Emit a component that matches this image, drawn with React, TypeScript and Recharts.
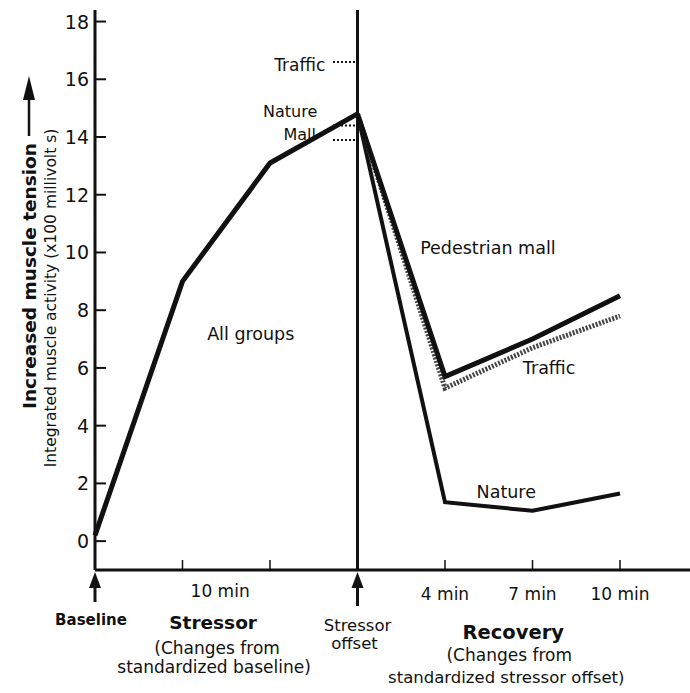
import { LineChart, Line, XAxis, YAxis, ReferenceLine, ReferenceDot, Customized } from "recharts";

const FONT = "'DejaVu Sans', sans-serif";
const INK = "#111";

// stressor phase (x: 0 = baseline, 3 = stressor offset)
const stressorX = [0, 1, 2, 3];
const allGroups = [0.2, 9.0, 13.1, 14.8];

// recovery phase (x: 4 = 4 min, 5 = 7 min, 6 = 10 min)
const recoveryX = [3, 4, 5, 6];
const mall = [14.8, 5.7, 7.0, 8.5];
const traffic = [14.8, 5.3, 6.7, 7.8];
const nature = [14.8, 1.35, 1.05, 1.65];

// standardized offset markers at the stressor offset line
const markerX = [2.72, 3];
const trafficOffset = 16.6;
const natureOffset = 14.4;
const mallOffset = 13.9;

const yTicks = [0, 2, 4, 6, 8, 10, 12, 14, 16, 18];
const xTicks = [0, 1, 1.43, 2, 3, 4, 4.78, 5, 6];
const tickMarks = [1, 2, 4, 5, 6];
const minuteLabels: Record<string, string> = { "1.43": "10 min", "4": "4 min", "5": "7 min", "6": "10 min" };

const annotations = [
  { x: 2.34, y: 16.5, text: "Traffic", size: 17 },
  { x: 2.23, y: 14.88, text: "Nature", size: 16 },
  { x: 2.34, y: 14.08, text: "Mall", size: 16 },
  { x: 4.49, y: 10.15, text: "Pedestrian mall", size: 17.5 },
  { x: 1.78, y: 7.2, text: "All groups", size: 17.5 },
  { x: 5.19, y: 6.0, text: "Traffic", size: 17.5 },
  { x: 4.7, y: 1.7, text: "Nature", size: 17.5 },
];

const toPoints = (xs: number[], ys: number[]) => xs.map((x, i) => ({ x, v: ys[i] }));

function YTick(props: any) {
  const { x, y, payload } = props;
  return (
    <g>
      <line x1={x} x2={x + 11} y1={y} y2={y} stroke={INK} strokeWidth={2} />
      <text x={x - 6} y={y} textAnchor="end" dominantBaseline="central" fontSize={19} fontFamily={FONT} fill={INK}>
        {payload.value}
      </text>
    </g>
  );
}

function Arrow({ x, y, len }: { x: number; y: number; len: number }) {
  return (
    <g>
      <path d={`M${x},${y + 2} L${x - 6},${y + 18} L${x + 6},${y + 18} Z`} fill={INK} />
      <line x1={x} x2={x} y1={y + 14} y2={y + len} stroke={INK} strokeWidth={3} />
    </g>
  );
}

function T({ x, y, size = 17, bold = false, children }: any) {
  return (
    <text x={x} y={y} textAnchor="middle" dominantBaseline="central" fontSize={size} fontWeight={bold ? "bold" : "normal"} fontFamily={FONT} fill={INK}>
      {children}
    </text>
  );
}

function XTick(props: any) {
  const { x, y, payload } = props;
  const v = payload.value;
  const parts: any[] = [];
  if (tickMarks.includes(v)) {
    parts.push(<line key="t" x1={x} x2={x} y1={y} y2={y - 10} stroke={INK} strokeWidth={1.5} />);
  }
  const m = minuteLabels[String(v)];
  if (m) parts.push(<T key="m" x={x} y={y + (v > 3 ? 24 : 21)}>{m}</T>);
  if (v === 0) {
    parts.push(<Arrow key="a" x={x} y={y} len={32} />);
    parts.push(<T key="b" x={x - 4} y={y + 50} size={15} bold>Baseline</T>);
  }
  if (v === 3) {
    parts.push(<Arrow key="a" x={x} y={y} len={36} />);
    parts.push(<T key="s1" x={x} y={y + 55} size={16.5}>Stressor</T>);
    parts.push(<T key="s2" x={x - 3} y={y + 73} size={16.5}>offset</T>);
  }
  if (v === 1.43) {
    parts.push(<T key="g1" x={x - 7} y={y + 52} size={18.5} bold>Stressor</T>);
    parts.push(<T key="g2" x={x - 3} y={y + 78}>(Changes from</T>);
    parts.push(<T key="g3" x={x - 6} y={y + 97}>standardized baseline)</T>);
  }
  if (v === 4.78) {
    parts.push(<T key="r1" x={x} y={y + 62} size={19.5} bold>Recovery</T>);
    parts.push(<T key="r2" x={x - 4} y={y + 85}>(Changes from</T>);
    parts.push(<T key="r3" x={x - 7} y={y + 107} size={16.5}>standardized stressor offset)</T>);
  }
  return <g>{parts}</g>;
}

function YLabels() {
  return (
    <g fontFamily={FONT} fill={INK}>
      <text transform="translate(29,276) rotate(-90)" textAnchor="middle" dominantBaseline="central" fontSize={18.5} fontWeight="bold">
        Increased muscle tension
      </text>
      <line x1={29} x2={29} y1={136} y2={95} stroke={INK} strokeWidth={2.5} />
      <path d="M29,76 L23,100 L35,100 Z" fill={INK} />
      <text transform="translate(51,298) rotate(-90)" textAnchor="middle" dominantBaseline="central" fontSize={15.5}>
        Integrated muscle activity (x100 millivolt s)
      </text>
    </g>
  );
}

export default function App() {
  return (
    <div style={{ position: "absolute", left: 0, top: 0, width: 690, height: 693, background: "#fff" }}>
      <LineChart width={690} height={693} margin={{ top: 10, right: 0, bottom: 0, left: 0 }}>
        <XAxis
          xAxisId="main"
          dataKey="x"
          type="number"
          domain={[0, 6.8]}
          ticks={xTicks}
          interval={0}
          height={123}
          tickSize={0}
          tickMargin={0}
          tickLine={false}
          axisLine={{ stroke: INK, strokeWidth: 3 }}
          tick={<XTick />}
        />
        <XAxis xAxisId="top" orientation="top" type="number" domain={[0, 6.8]} height={0} tick={false} tickLine={false} axisLine={{ stroke: INK, strokeWidth: 2 }} />
        <YAxis
          type="number"
          domain={[-1, 18.4]}
          ticks={yTicks}
          interval={0}
          width={95}
          tickSize={0}
          tickMargin={0}
          tickLine={false}
          axisLine={{ stroke: INK, strokeWidth: 3 }}
          tick={<YTick />}
        />
        <ReferenceLine xAxisId="main" x={3} stroke={INK} strokeWidth={3} />
        <Line xAxisId="main" data={toPoints(markerX, [trafficOffset, trafficOffset])} dataKey="v" stroke={INK} strokeWidth={2} strokeDasharray="2 2" dot={false} isAnimationActive={false} />
        <Line xAxisId="main" data={toPoints(markerX, [natureOffset, natureOffset])} dataKey="v" stroke={INK} strokeWidth={2} strokeDasharray="2 2" dot={false} isAnimationActive={false} />
        <Line xAxisId="main" data={toPoints(markerX, [mallOffset, mallOffset])} dataKey="v" stroke={INK} strokeWidth={2} strokeDasharray="2 2" dot={false} isAnimationActive={false} />
        <Line xAxisId="main" data={toPoints(stressorX, allGroups)} dataKey="v" stroke={INK} strokeWidth={5} dot={false} isAnimationActive={false} />
        <Line xAxisId="main" data={toPoints(recoveryX, nature)} dataKey="v" stroke={INK} strokeWidth={4} dot={false} isAnimationActive={false} />
        <Line xAxisId="main" data={toPoints(recoveryX, traffic)} dataKey="v" stroke="#444" strokeWidth={5} strokeDasharray="2 1.5" dot={false} isAnimationActive={false} />
        <Line xAxisId="main" data={toPoints(recoveryX, mall)} dataKey="v" stroke={INK} strokeWidth={5} dot={false} isAnimationActive={false} />
        {annotations.map((a, i) => (
          <ReferenceDot
            key={i}
            xAxisId="main"
            x={a.x}
            y={a.y}
            r={0}
            stroke="none"
            fill="none"
            label={{ value: a.text, position: "center", fontSize: a.size, fontFamily: FONT, fill: INK }}
          />
        ))}
        <Customized component={<YLabels />} />
      </LineChart>
    </div>
  );
}
